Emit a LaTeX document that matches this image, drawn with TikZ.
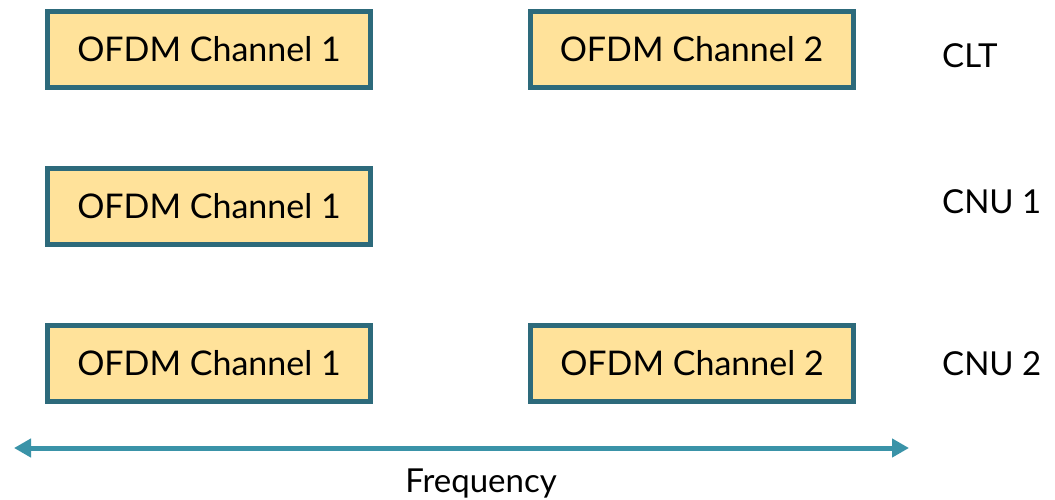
\documentclass[tikz,border=0pt]{standalone}
\usepackage{fontspec}
\setmainfont{Lato}
\usetikzlibrary{calc}
\usetikzlibrary{arrows.meta}

\definecolor{chanfill}{HTML}{FFE29A}
\definecolor{chanedge}{HTML}{2D6A7B}
\definecolor{freqline}{HTML}{3A93A8}

\begin{document}
\begin{tikzpicture}[x=1pt,y=-1pt]
\useasboundingbox (0,0) rectangle (1055,499);

% box centres
\coordinate (a) at (209, 49.5);
\coordinate (b) at (691.5, 49.5);
\coordinate (c) at (209, 206.5);
\coordinate (d) at (209, 363);
\coordinate (e) at (692, 363);
% labels on the right
\coordinate (p) at (942, 67);
\coordinate (q) at (942, 213);
\coordinate (r) at (942, 375);
% frequency axis
\coordinate (l) at (14, 448);
\coordinate (m) at (909, 448);
\coordinate (f) at (481, 492);

\newcommand{\chanbox}[3]{
    \node[draw=chanedge, fill=chanfill, line width=5pt, inner sep=0pt,
          minimum width=323pt, minimum height=76pt,
          font=\fontsize{34}{40}\selectfont] (#1) at (#2) {OFDM Channel #3};
}

\newcommand{\sidelabel}[3]{
    \node[anchor=base west, inner sep=0pt, font=\fontsize{33}{40}\selectfont] (#1) at (#2) {#3};
}

\chanbox{clta}{a}{1}
\chanbox{cltb}{b}{2}
\chanbox{cnua}{c}{1}
\chanbox{cnuba}{d}{1}
\chanbox{cnubb}{e}{2}

\sidelabel{clt}{p}{CLT}
\sidelabel{cnu1}{q}{CNU 1}
\sidelabel{cnu2}{r}{CNU 2}

\draw[freqline, line width=5pt, {Triangle[length=17pt,width=18pt]}-{Triangle[length=17pt,width=18pt]}] (l) -- (m);
\node[anchor=base, inner sep=0pt, font=\fontsize{33}{40}\selectfont] (freq) at (f) {Frequency};

\end{tikzpicture}
\end{document}
